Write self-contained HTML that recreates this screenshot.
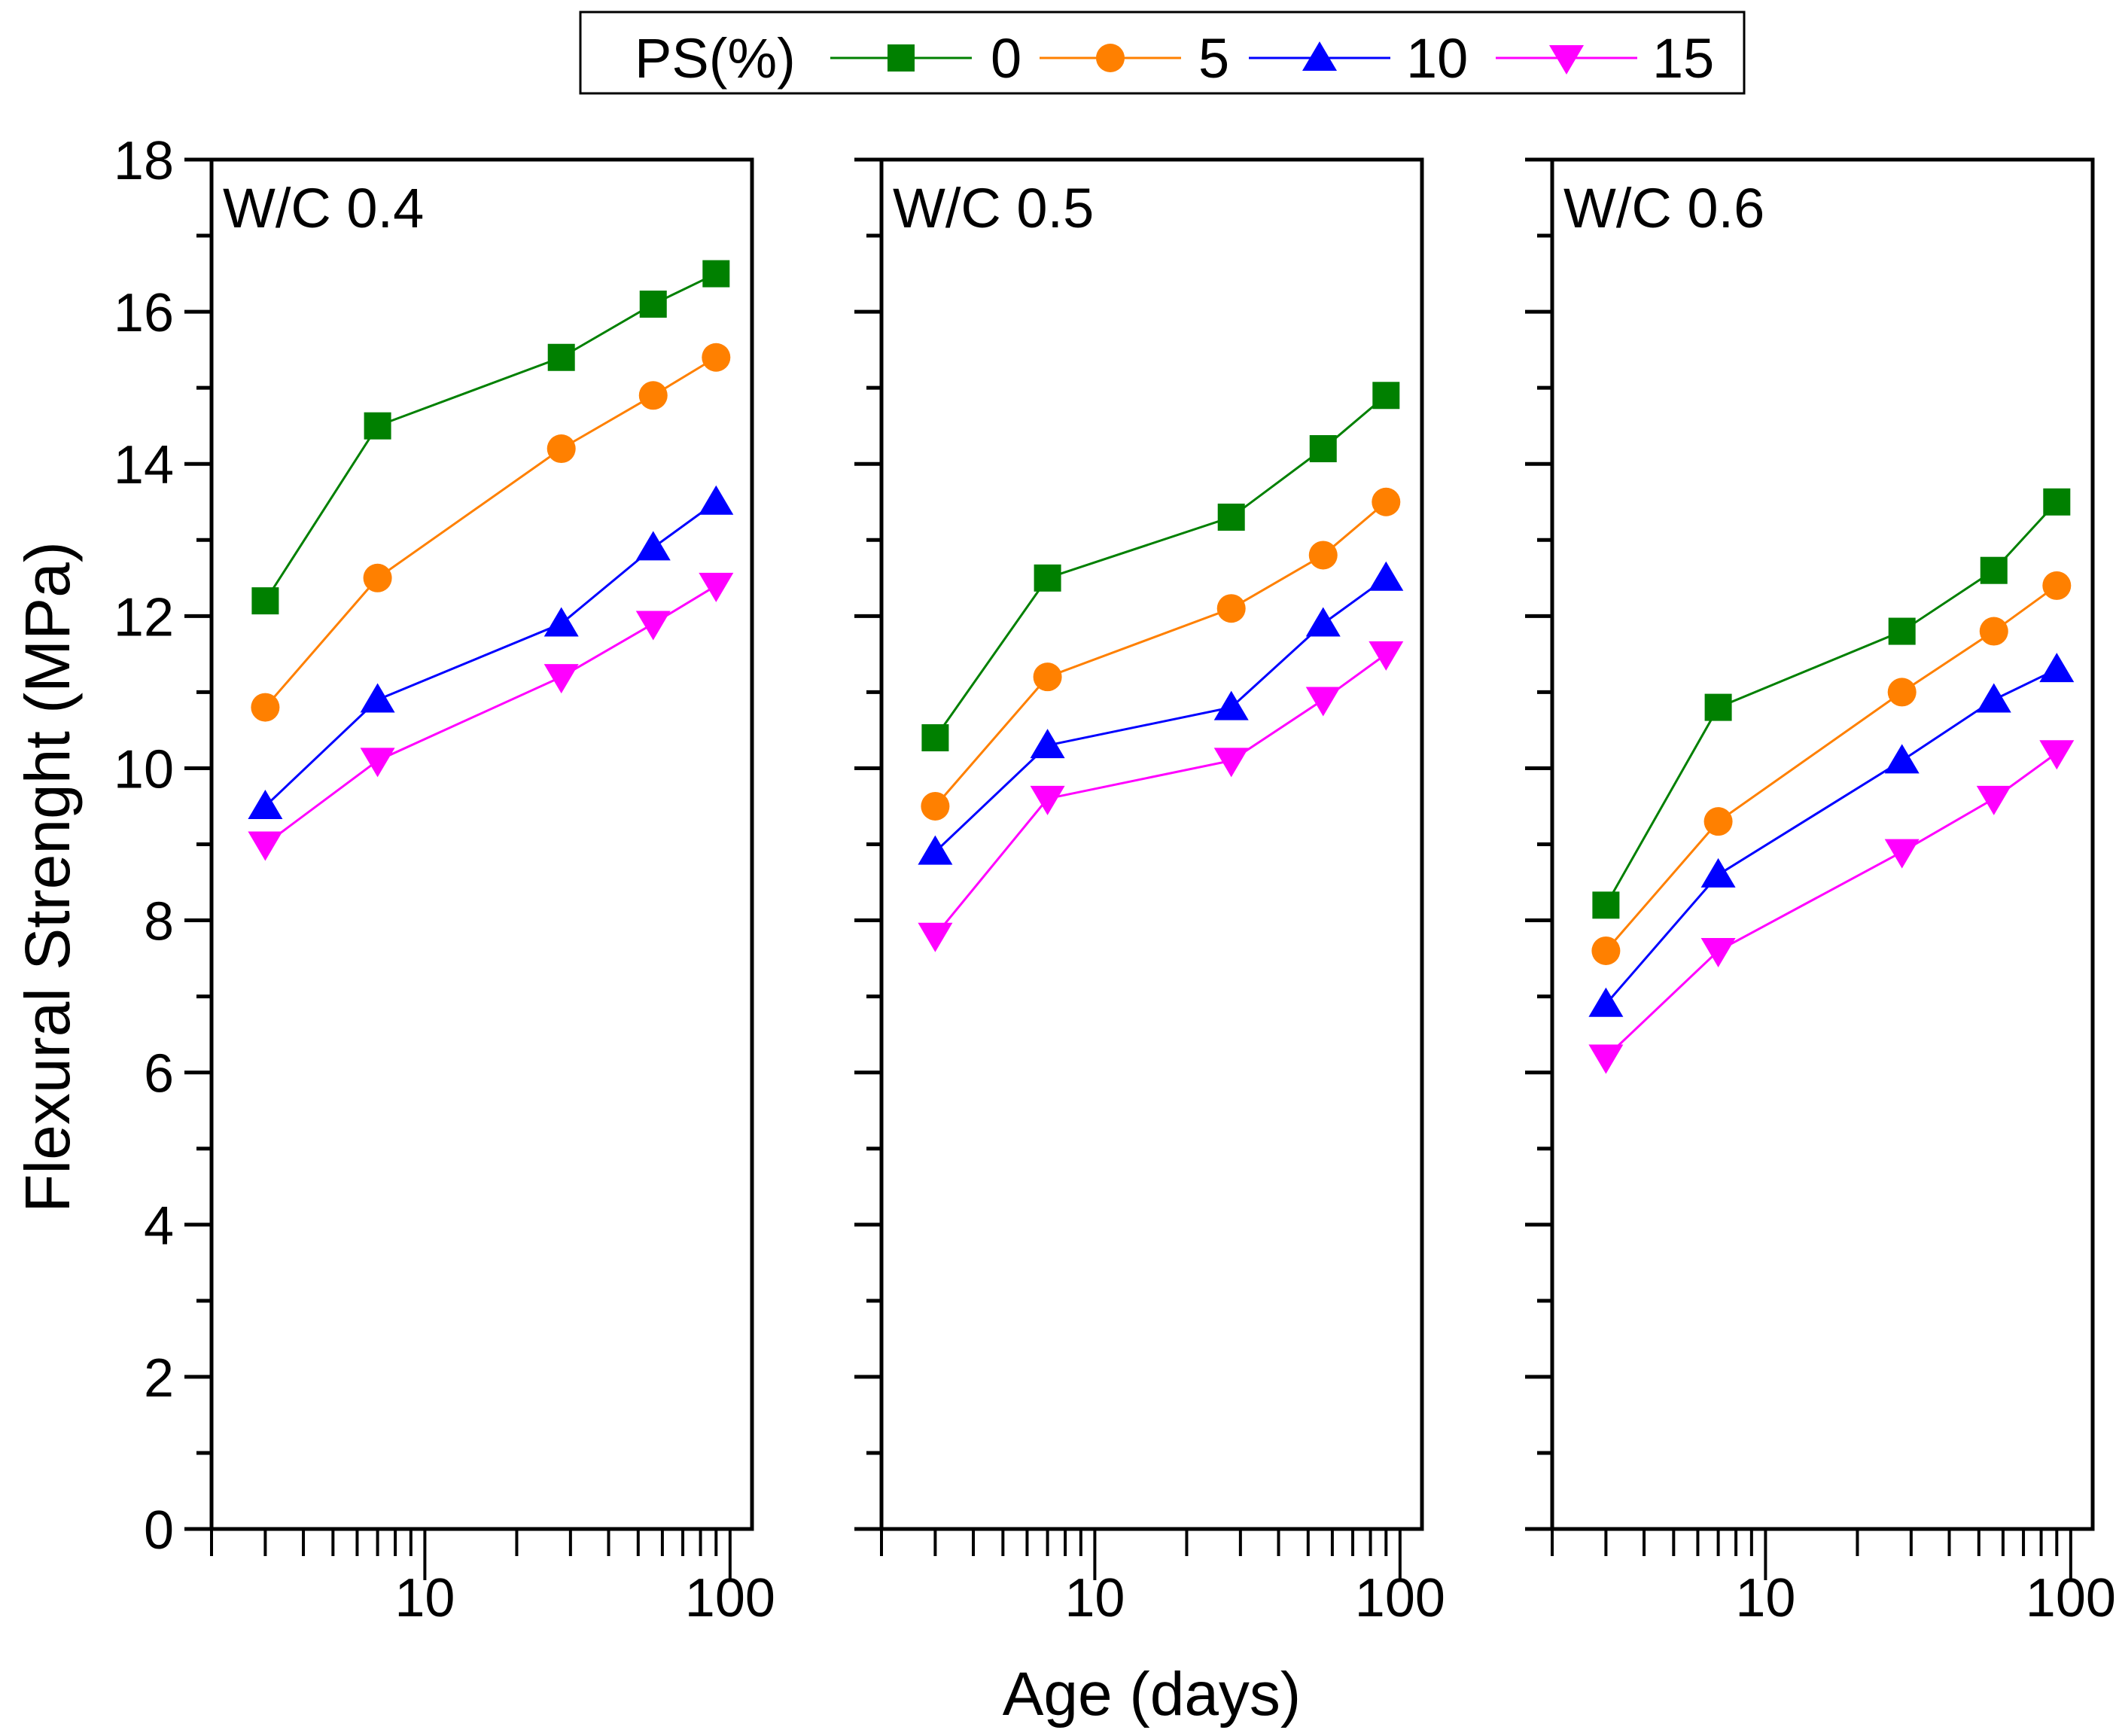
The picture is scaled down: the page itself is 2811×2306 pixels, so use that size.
<!DOCTYPE html>
<html><head><meta charset="utf-8"><style>
html,body{margin:0;padding:0;background:#fff}
svg{display:block}
text{font-family:"Liberation Sans",sans-serif;fill:#000}
</style></head><body>
<svg id="chart" width="2811" height="2306" viewBox="0 0 2811 2306" xmlns="http://www.w3.org/2000/svg">
<g id="legend">
<rect x="771" y="16" width="1546" height="108" fill="#fff" stroke="#000" stroke-width="3"/>
<text x="843" y="103" font-size="74">PS(%)</text>
</g>
<text x="1530" y="2278" font-size="82" text-anchor="middle">Age (days)</text>
<text transform="translate(92,1165) rotate(-90)" font-size="84" text-anchor="middle">Flexural Strenght (MPa)</text>
</svg>
<script>
const ages = [3, 7, 28, 56, 90];
const seriesNames = ["0", "5", "10", "15"];
const panelTitles = ["W/C 0.4", "W/C 0.5", "W/C 0.6"];
const wc04_ps0 = [12.2, 14.5, 15.4, 16.1, 16.5];
const wc04_ps5 = [10.8, 12.5, 14.2, 14.9, 15.4];
const wc04_ps10 = [9.5, 10.9, 11.9, 12.9, 13.5];
const wc04_ps15 = [9.0, 10.1, 11.2, 11.9, 12.4];
const wc05_ps0 = [10.4, 12.5, 13.3, 14.2, 14.9];
const wc05_ps5 = [9.5, 11.2, 12.1, 12.8, 13.5];
const wc05_ps10 = [8.9, 10.3, 10.8, 11.9, 12.5];
const wc05_ps15 = [7.8, 9.6, 10.1, 10.9, 11.5];
const wc06_ps0 = [8.2, 10.8, 11.8, 12.6, 13.5];
const wc06_ps5 = [7.6, 9.3, 11.0, 11.8, 12.4];
const wc06_ps10 = [6.9, 8.6, 10.1, 10.9, 11.3];
const wc06_ps15 = [6.2, 7.6, 8.9, 9.6, 10.2];
const yTicks = [0, 2, 4, 6, 8, 10, 12, 14, 16, 18];
const xTickLabels = [10, 100];

const panelData = [[wc04_ps0, wc04_ps5, wc04_ps10, wc04_ps15],
                   [wc05_ps0, wc05_ps5, wc05_ps10, wc05_ps15],
                   [wc06_ps0, wc06_ps5, wc06_ps10, wc06_ps15]];
const colors = ["#008000", "#ff8000", "#0000ff", "#ff00ff"];
const markers = ["square", "circle", "tri-up", "tri-down"];
const panelLeft = [281, 1171, 2062];
const panelW = 718;
const plotTop = 212, plotBottom = 2031;
const yMin = 0, yMax = 18;
const xMin = Math.log10(2), xMax = Math.log10(118);
const NS = "http://www.w3.org/2000/svg";
const svg = document.getElementById('chart');

function mk(tag, attrs, parent) {
  const e = document.createElementNS(NS, tag);
  for (const k in attrs) e.setAttribute(k, attrs[k]);
  (parent || svg).appendChild(e);
  return e;
}
function yScale(v) { return plotBottom - (v - yMin) / (yMax - yMin) * (plotBottom - plotTop); }
function xScale(left, v) { return left + (Math.log10(v) - xMin) / (xMax - xMin) * panelW; }

function marker(type, cx, cy, color, parent) {
  let e;
  if (type === "square") e = mk('rect', {x: cx - 18, y: cy - 18, width: 36, height: 36, fill: color}, parent);
  else if (type === "circle") e = mk('circle', {cx: cx, cy: cy, r: 19, fill: color}, parent);
  else if (type === "tri-up") e = mk('polygon', {points: `${cx},${cy - 22} ${cx - 23},${cy + 17} ${cx + 23},${cy + 17}`, fill: color}, parent);
  else e = mk('polygon', {points: `${cx},${cy + 22} ${cx - 23},${cy - 17} ${cx + 23},${cy - 17}`, fill: color}, parent);
  return e;
}

panelData.forEach((series, p) => {
  const L = panelLeft[p];
  const g = mk('g', {});
  
  
  for (let v = yMin; v <= yMax; v++) {
    const y = yScale(v);
    const major = v % 2 === 0;
    const t = mk('line', {x1: L - (major ? 36 : 20), x2: L, y1: y, y2: y, stroke: '#000', 'stroke-width': 5}, g);
    
    
  }
  if (p === 0) {
    yTicks.forEach(v => {
      const t = mk('text', {x: L - 50, y: yScale(v) + 26, 'font-size': 72, 'text-anchor': 'end'}, g);
      t.textContent = v;
      
      
    });
  }
  [2,3,4,5,6,7,8,9,10,20,30,40,50,60,70,80,90,100].forEach(v => {
    const x = xScale(L, v);
    const major = (v === 10 || v === 100);
    const t = mk('line', {x1: x, x2: x, y1: plotBottom, y2: plotBottom + (major ? 68 : 36), stroke: '#000', 'stroke-width': 4}, g);
    
    
  });
  xTickLabels.forEach(v => {
    const t = mk('text', {x: xScale(L, v), y: plotBottom + 116, 'font-size': 72, 'text-anchor': 'middle'}, g);
    t.textContent = v;
    
    
  });
  const frame = mk('rect', {x: L, y: plotTop, width: panelW, height: plotBottom - plotTop, fill: 'none', stroke: '#000', 'stroke-width': 5}, g);
  
  
  const title = mk('text', {x: L + 15, y: plotTop + 90, 'font-size': 74}, g);
  title.textContent = panelTitles[p];
  
  
  series.forEach((vals, s) => {
    const pts = vals.map((v, i) => `${xScale(L, ages[i])},${yScale(v)}`).join(' ');
    const line = mk('polyline', {points: pts, fill: 'none', stroke: colors[s], 'stroke-width': 3}, g);
    
    
    vals.forEach((v, i) => {
      const m = marker(markers[s], xScale(L, ages[i]), yScale(v), colors[s], g);
      
      
    });
  });
});

const legend = document.getElementById('legend');
const legLineX = [1103, 1381, 1659, 1987];
const legTextX = [1316, 1592, 1868, 2195];
seriesNames.forEach((n, s) => {
  const g = mk('g', {}, legend);
  
  
  mk('line', {x1: legLineX[s], x2: legLineX[s] + 188, y1: 77, y2: 77, stroke: colors[s], 'stroke-width': 3}, g);
  marker(markers[s], legLineX[s] + 94, 77, colors[s], g);
  const t = mk('text', {x: legTextX[s], y: 103, 'font-size': 74}, g);
  t.textContent = n;
});
</script>
</body></html>
